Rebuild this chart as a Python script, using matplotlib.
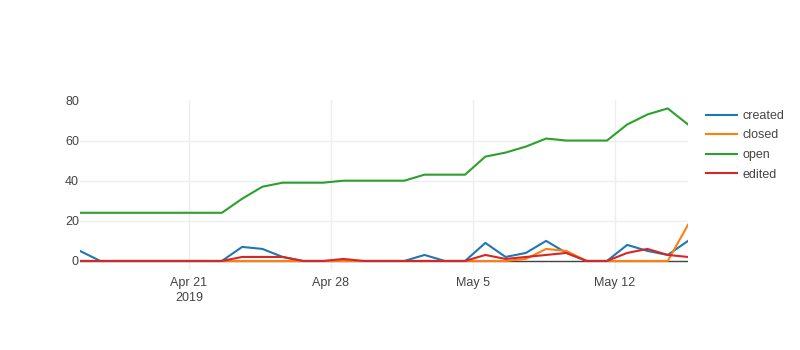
import matplotlib
matplotlib.use("Agg")
import matplotlib.pyplot as plt
import pandas as pd

dates = pd.date_range("2019-04-15 15:00", periods=31, freq="D")
created = [5, 0, 0, 0, 0, 0, 0, 0, 7, 6, 2, 0, 0, 0, 0, 0, 0, 3, 0, 0,
           9, 2, 4, 10, 4, 0, 0, 8, 5, 3, 10]
closed = [0, 0, 0, 0, 0, 0, 0, 0, 0, 0, 0, 0, 0, 0, 0, 0, 0, 0, 0, 0,
          0, 0, 1, 6, 5, 0, 0, 0, 0, 0, 18]
open_ = [24, 24, 24, 24, 24, 24, 24, 24, 31, 37, 39, 39, 39, 40, 40, 40, 40,
         43, 43, 43, 52, 54, 57, 61, 60, 60, 60, 68, 73, 76, 68]
edited = [0, 0, 0, 0, 0, 0, 0, 0, 2, 2, 2, 0, 0, 1, 0, 0, 0, 0, 0, 0,
          3, 1, 2, 3, 4, 0, 0, 4, 6, 3, 2]

series_names = ["created", "closed", "open", "edited"]
series_values = [created, closed, open_, edited]
colors = ["#1f77b4", "#ff7f0e", "#2ca02c", "#d62728"]

tick_dates = pd.to_datetime(["2019-04-21", "2019-04-28", "2019-05-05", "2019-05-12"])
tick_labels = ["Apr 21\n2019", "Apr 28", "May 5", "May 12"]
y_ticks = [0, 20, 40, 60, 80]

plt.rcParams["font.family"] = ["Liberation Sans", "DejaVu Sans"]
fig = plt.figure(figsize=(8, 3.5), dpi=100)
ax = fig.add_axes([80 / 800, 80 / 350, 608 / 800, 170 / 350])

for name, vals, c in zip(series_names, series_values, colors):
    ax.plot(dates, vals, color=c, lw=1.5, label=name, solid_joinstyle="round", zorder=3)

ax.set_xlim(dates[0], dates[-1])
ax.set_ylim(-4.5, 80.2)
ax.set_xticks(tick_dates)
ax.set_xticklabels(tick_labels, linespacing=1.35, va="top")
ax.set_yticks(y_ticks)
ax.tick_params(axis="both", length=0, labelsize=9, colors="#444444")
ax.tick_params(axis="x", pad=5)
ax.tick_params(axis="y", pad=0.8)
ax.grid(True, color="#eeeeee", lw=1)
ax.get_ygridlines()[-1].set_visible(False)
ax.set_axisbelow(True)
ax.axhline(0, color="#444444", lw=1, zorder=2)
for s in ax.spines.values():
    s.set_visible(False)

leg = fig.legend(loc="upper left", bbox_to_anchor=(706 / 800, 1 - 110 / 350),
                 frameon=False, fontsize=9, handlelength=2.5, handletextpad=0.45,
                 labelspacing=0.6, borderaxespad=0, borderpad=0)
for t in leg.get_texts():
    t.set_color("#444444")

fig.savefig("out.png", dpi=100)
